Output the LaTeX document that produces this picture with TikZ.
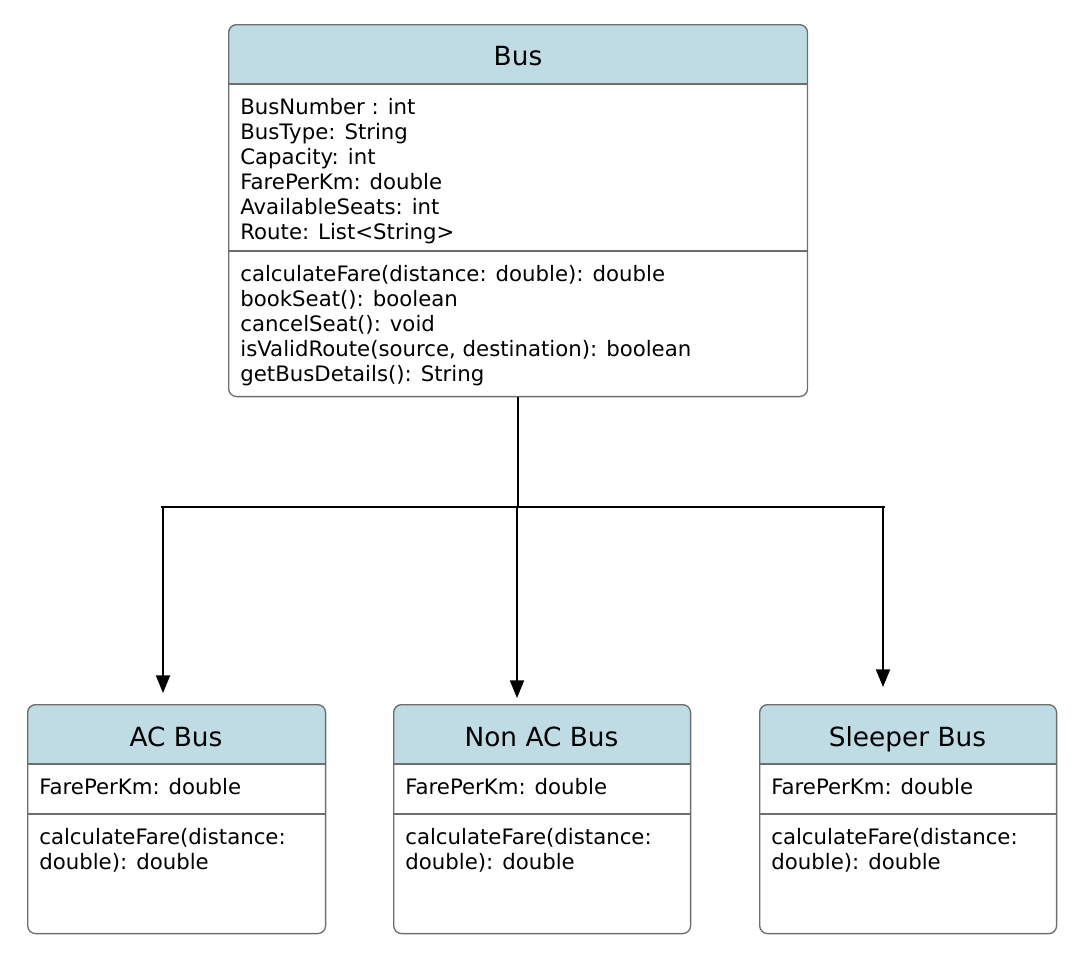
\documentclass[tikz,border=0pt]{standalone}
\usepackage{fontspec}
\setmainfont{DejaVu Sans}
\usetikzlibrary{arrows.meta}
\definecolor{hdrblue}{RGB}{191,220,229}
\definecolor{edgegray}{RGB}{110,110,110}
\begin{document}
\begin{tikzpicture}[x=0.02cm, y=-0.02cm]
\tikzset{classbox/.style={draw=edgegray, line width=0.75pt, rounded corners=1.6mm, anchor=north west, inner sep=0pt},
  titre/.style={font=\fontsize{15}{18}\selectfont, anchor=base, inner sep=0pt},
  membres/.style={font=\fontsize{12.1}{14.2}\selectfont, align=left, anchor=north west, inner sep=0pt},
  sep/.style={draw=edgegray, line width=0.6pt},
  fleche/.style={-{Triangle[length=10pt, width=8pt]}, line width=0.85pt}}
\useasboundingbox (0,0) rectangle (1082,968);
\fill[hdrblue, rounded corners=1.6mm] (228,84) |- (807,24) -- (807,84);
\node[classbox, minimum width=11.58cm, minimum height=7.44cm] (bus) at (228,24) {};
\draw[sep] (228,84) -- (807,84);
\draw[sep] (228,251) -- (807,251);
\node[titre] (busnom) at (518,65) {Bus};
\node[membres] (busattr) at (240,98) {BusNumber : int\\BusType: String\\Capacity: int\\FarePerKm: double\\AvailableSeats: int\\Route: List<String>};
\node[membres] (busmeth) at (240,265) {calculateFare(distance: double): double\\bookSeat(): boolean\\cancelSeat(): void\\isValidRoute(source, destination): boolean\\getBusDetails(): String};
\fill[hdrblue, rounded corners=1.6mm] (27,764) |- (325,704) -- (325,764);
\node[classbox, minimum width=5.96cm, minimum height=4.58cm] (ac) at (27,704) {};
\draw[sep] (27,764) -- (325,764);
\draw[sep] (27,814) -- (325,814);
\node[titre] (acnom) at (176,746) {AC Bus};
\node[membres] (acattr) at (39,778) {FarePerKm: double};
\node[membres] (acmeth) at (39,828) {calculateFare(distance:\\double): double};
\fill[hdrblue, rounded corners=1.6mm] (393,764) |- (690,704) -- (690,764);
\node[classbox, minimum width=5.94cm, minimum height=4.58cm] (nonac) at (393,704) {};
\draw[sep] (393,764) -- (690,764);
\draw[sep] (393,814) -- (690,814);
\node[titre] (nonacnom) at (541.5,746) {Non AC Bus};
\node[membres] (nonacattr) at (405,778) {FarePerKm: double};
\node[membres] (nonacmeth) at (405,828) {calculateFare(distance:\\double): double};
\fill[hdrblue, rounded corners=1.6mm] (759,764) |- (1056,704) -- (1056,764);
\node[classbox, minimum width=5.94cm, minimum height=4.58cm] (sleeper) at (759,704) {};
\draw[sep] (759,764) -- (1056,764);
\draw[sep] (759,814) -- (1056,814);
\node[titre] (sleepernom) at (907.5,746) {Sleeper Bus};
\node[membres] (sleeperattr) at (771,778) {FarePerKm: double};
\node[membres] (sleepermeth) at (771,828) {calculateFare(distance:\\double): double};
\coordinate (jonction) at (517.5,507);
\coordinate (barg) at (161,507);
\coordinate (bard) at (885,507);
\coordinate (versac) at (163,693);
\coordinate (versnonac) at (517,698);
\coordinate (verssleeper) at (883,687);
\draw[line width=0.85pt] (bus.south) -- (bus.south |- jonction);
\draw[line width=1.1pt] (barg) -- (bard);
\draw[fleche] (versac |- jonction) -- (versac);
\draw[fleche] (versnonac |- jonction) -- (versnonac);
\draw[fleche] (verssleeper |- jonction) -- (verssleeper);
\end{tikzpicture}
\end{document}
